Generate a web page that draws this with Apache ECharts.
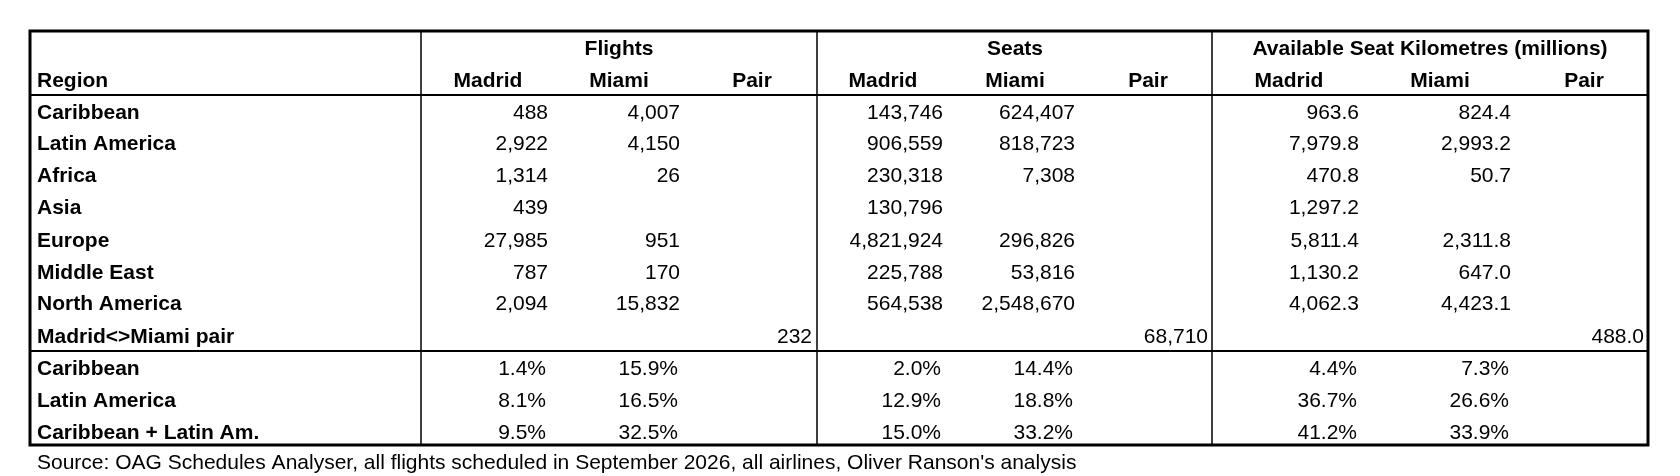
<!DOCTYPE html>
<html>
<head>
<meta charset="utf-8">
<script src="https://cdn.jsdelivr.net/npm/echarts@6/dist/echarts.min.js"></script>
<style>html,body{margin:0;padding:0;background:#fff}#main{width:1680px;height:476px}</style>
</head>
<body>
<div id="main"></div>
<script>
// rows of the table
var regions = ['Caribbean', 'Latin America', 'Africa', 'Asia', 'Europe', 'Middle East', 'North America', 'Madrid<>Miami pair'];
var flightsMadrid = [488, 2922, 1314, 439, 27985, 787, 2094, null];
var flightsMiami  = [4007, 4150, 26, null, 951, 170, 15832, null];
var flightsPair   = [null, null, null, null, null, null, null, 232];
var seatsMadrid = [143746, 906559, 230318, 130796, 4821924, 225788, 564538, null];
var seatsMiami  = [624407, 818723, 7308, null, 296826, 53816, 2548670, null];
var seatsPair   = [null, null, null, null, null, null, null, 68710];
var askMadrid = [963.6, 7979.8, 470.8, 1297.2, 5811.4, 1130.2, 4062.3, null];
var askMiami  = [824.4, 2993.2, 50.7, null, 2311.8, 647.0, 4423.1, null];
var askPair   = [null, null, null, null, null, null, null, 488.0];

var shareRegions = ['Caribbean', 'Latin America', 'Caribbean + Latin Am.'];
var shareFlightsMadrid = [1.4, 8.1, 9.5];
var shareFlightsMiami  = [15.9, 16.5, 32.5];
var shareSeatsMadrid = [2.0, 12.9, 15.0];
var shareSeatsMiami  = [14.4, 18.8, 33.2];
var shareAskMadrid = [4.4, 36.7, 41.2];
var shareAskMiami  = [7.3, 26.6, 33.9];

var groupTitles = ['Flights', 'Seats', 'Available Seat Kilometres (millions)'];
var subHeaders = ['Madrid', 'Miami', 'Pair'];
var sourceNote = "Source: OAG Schedules Analyser, all flights scheduled in September 2026, all airlines, Oliver Ranson's analysis";

var font = '"Liberation Sans Narrow", "Arial Narrow", sans-serif';
var fs = 21;

function fmt(v, d) {
  if (v == null) return '';
  return v.toLocaleString('en-US', {minimumFractionDigits: d, maximumFractionDigits: d});
}

// layout
var tblL = 30, tblR = 1648, tblT = 31, tblB = 445;
var dividers = [421, 817, 1212];
var headLine = 95, pctLine = 351;
var rowY = [113, 144, 176, 208, 241, 273, 304, 337];
var pctY = [369, 401, 433];
var colRight = [[548, 680, 812], [943, 1075, 1208], [1359, 1511, 1644]];
var headCenter = [[488, 619, 752], [883, 1015, 1148], [1289, 1440, 1584]];
var titleCenter = [619, 1015, 1430];

var els = [];
function addText(x, y, s, align, bold) {
  els.push({type: 'text', x: x, y: y, style: {text: s, align: align, verticalAlign: 'middle',
    font: (bold ? 'bold ' : '') + fs + 'px ' + font, fill: '#000'}});
}
function addLine(x1, y1, x2, y2, w) {
  els.push({type: 'line', shape: {x1: x1, y1: y1, x2: x2, y2: y2}, style: {stroke: '#000', lineWidth: w}});
}

els.push({type: 'rect', shape: {x: tblL, y: tblT, width: tblR - tblL, height: tblB - tblT}, style: {fill: 'none', stroke: '#000', lineWidth: 3}});
dividers.forEach(function (x) { addLine(x, tblT, x, tblB, 1.5); });
addLine(tblL, headLine, tblR, headLine, 2);
addLine(tblL, pctLine, tblR, pctLine, 2);

addText(37, 81, 'Region', 'left', true);
groupTitles.forEach(function (t, g) {
  addText(titleCenter[g], 49, t, 'center', true);
  subHeaders.forEach(function (h, c) { addText(headCenter[g][c], 81, h, 'center', true); });
});

var groups = [
  [[flightsMadrid, flightsMiami, flightsPair], 0],
  [[seatsMadrid, seatsMiami, seatsPair], 0],
  [[askMadrid, askMiami, askPair], 1]
];
regions.forEach(function (r, i) {
  addText(37, rowY[i], r, 'left', true);
  groups.forEach(function (g, gi) {
    g[0].forEach(function (arr, c) {
      addText(colRight[gi][c], rowY[i], fmt(arr[i], g[1]), 'right', false);
    });
  });
});

var shareGroups = [[shareFlightsMadrid, shareFlightsMiami], [shareSeatsMadrid, shareSeatsMiami], [shareAskMadrid, shareAskMiami]];
shareRegions.forEach(function (r, i) {
  addText(37, pctY[i], r, 'left', true);
  shareGroups.forEach(function (g, gi) {
    g.forEach(function (arr, c) {
      addText(colRight[gi][c] - 2, pctY[i], fmt(arr[i], 1) + '%', 'right', false);
    });
  });
});

addText(37, 463, sourceNote, 'left', false);

var chart = echarts.init(document.getElementById('main'));
chart.setOption({animation: false, graphic: els});
</script>
</body>
</html>
